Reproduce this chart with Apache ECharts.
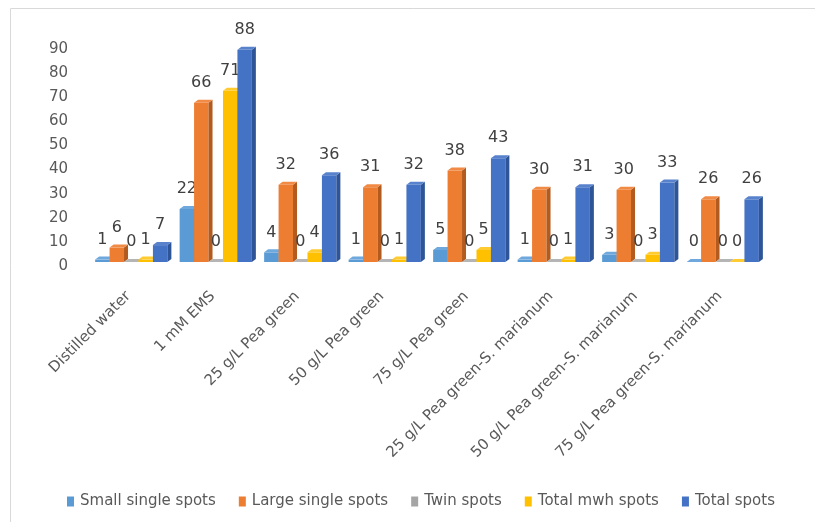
<!DOCTYPE html>
<html>
<head>
<meta charset="utf-8">
<script src="https://cdn.jsdelivr.net/npm/echarts@6/dist/echarts.min.js"></script>
<style>
html,body{margin:0;padding:0;background:#fff;}
#chart{width:815px;height:522px;}
</style>
</head>
<body>
<div id="chart"></div>
<script>
var categories = ['Distilled water','1 mM EMS','25 g/L Pea green','50 g/L Pea green','75 g/L Pea green','25 g/L Pea green-S. marianum','50 g/L Pea green-S. marianum','75 g/L Pea green-S. marianum'];
var seriesNames = ['Small single spots','Large single spots','Twin spots','Total mwh spots','Total spots'];
var smallSingle = [1,22,4,1,5,1,3,0];
var largeSingle = [6,66,32,31,38,30,30,26];
var twinSpots = [0,0,0,0,0,0,0,0];
var totalMwh = [1,71,4,1,5,1,3,0];
var totalSpots = [7,88,36,32,43,31,33,26];
var yTicks = [0,10,20,30,40,50,60,70,80,90];

var seriesData = [smallSingle, largeSingle, twinSpots, totalMwh, totalSpots];
var colors = ['#5B9BD5','#ED7D31','#A5A5A5','#FFC000','#4472C4'];
var sideColors = ['#3F78AE','#B35B1E','#7C7C7C','#C29200','#2E5597'];
var topColors = ['#6FA8DC','#F08A45','#B5B5B5','#FFCB2E','#5882CC'];
var NS = seriesNames.length;
var DEPTH_X = 4, DEPTH_Y = 3, BAR_RATIO = 0.171;
var FONT = '"DejaVu Sans", sans-serif';

function makeRender(s){
  var c = colors[s], side = sideColors[s], top = topColors[s];
  return function(params, api){
    var i = api.value(0), v = api.value(1);
    var base = api.coord([i, 0]);
    var topPt = api.coord([i, v]);
    var band = api.size([1, 0])[0];
    var bw = band * BAR_RATIO;
    var total = NS * bw + DEPTH_X;
    var x0 = base[0] - total / 2 + s * bw;
    var x1 = x0 + bw;
    var yb = base[1], yt = topPt[1];
    return {type:'group', children:[
      {type:'rect', shape:{x:x0, y:yt, width:bw, height:Math.max(yb-yt,0)}, style:{fill:c}},
      {type:'polygon', shape:{points:[[x1,yt],[x1+DEPTH_X,yt-DEPTH_Y],[x1+DEPTH_X,yb-DEPTH_Y],[x1,yb]]}, style:{fill:side}},
      {type:'polygon', shape:{points:[[x0,yt],[x1,yt],[x1+DEPTH_X,yt-DEPTH_Y],[x0+DEPTH_X,yt-DEPTH_Y]]}, style:{fill:top}},
      {type:'text', style:{text:String(v), x:(x0+x1)/2, y:yt-20, fill:'#404040', font:'16px ' + FONT, align:'center', verticalAlign:'middle'}}
    ]};
  };
}

var series = seriesData.map(function(arr, s){
  return {
    type:'custom',
    name:seriesNames[s],
    itemStyle:{color:colors[s]},
    renderItem:makeRender(s),
    encode:{x:0, y:1},
    data:arr.map(function(v, i){ return [i, v]; }),
    silent:true
  };
});

var chart = echarts.init(document.getElementById('chart'), null, {renderer:'canvas'});
chart.setOption({
  animation:false,
  backgroundColor:'#fff',
  graphic:[{type:'rect', shape:{x:10.5, y:8.5, width:900, height:700}, style:{fill:null, stroke:'#D9D9D9', lineWidth:1}, silent:true}],
  grid:{left:91, right:48, top:45, bottom:260},
  legend:{
    left:62, top:489, itemWidth:7, itemHeight:10, itemGap:23, icon:'rect',
    textStyle:{color:'#595959', fontSize:15, fontFamily:'DejaVu Sans', padding:[0,0,0,1]},
    data:seriesNames
  },
  xAxis:{
    type:'category', data:categories,
    axisLine:{show:false}, axisTick:{show:false}, splitLine:{show:false},
    axisLabel:{rotate:45, margin:27, color:'#595959', fontSize:15, fontFamily:'DejaVu Sans', interval:0, padding:[0,7,0,0]}
  },
  yAxis:{
    type:'value', min:yTicks[0], max:yTicks[yTicks.length-1], interval:10,
    axisLine:{show:false}, axisTick:{show:false}, splitLine:{show:false},
    axisLabel:{margin:23, color:'#595959', fontSize:15, fontFamily:'DejaVu Sans', verticalAlign:'top', lineHeight:8}
  },
  series:series
});
</script>
</body>
</html>
